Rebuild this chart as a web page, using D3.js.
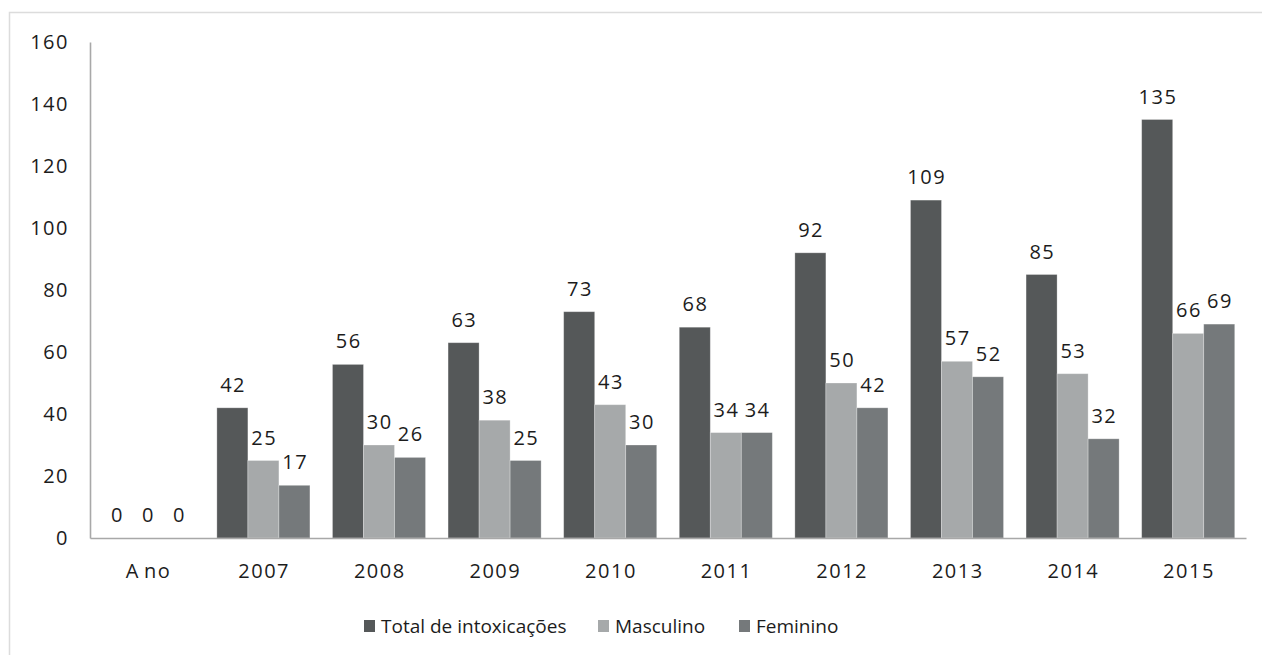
<!DOCTYPE html>
<html>
<head>
<meta charset="utf-8">
<script src="https://cdn.jsdelivr.net/npm/d3@7"></script>
<style>
  html, body { margin: 0; padding: 0; background: #fff; }
  svg { display: block; }
  text { font-family: "Open Sans", "Noto Sans", sans-serif; fill: #1c1c1c; }
</style>
</head>
<body>
<svg id="chart" width="1262" height="655"></svg>
<script>
// Intoxication counts per year, total and by sex
const categories = ["Ano", "2007", "2008", "2009", "2010", "2011", "2012", "2013", "2014", "2015"];
const seriesNames = ["Total de intoxicações", "Masculino", "Feminino"];
const totalValues = [0, 42, 56, 63, 73, 68, 92, 109, 85, 135];
const maleValues = [0, 25, 30, 38, 43, 34, 50, 57, 53, 66];
const femaleValues = [0, 17, 26, 25, 30, 34, 42, 52, 32, 69];
const yTicks = [0, 20, 40, 60, 80, 100, 120, 140, 160];

const seriesValues = [totalValues, maleValues, femaleValues];
const colors = ["#555859", "#a6a9aa", "#75797b"];

const numFont = "20px";
const numSpacing = 1.5;

const svg = d3.select("#chart");

// outer frame
svg.append("rect")
  .attr("x", 9.5).attr("y", 12.5)
  .attr("width", 1400).attr("height", 800)
  .attr("fill", "none").attr("stroke", "#dcdcdc").attr("stroke-width", 1.5);

const plot = { left: 90, right: 1246, top: 42, bottom: 538 };

const x0 = d3.scaleBand()
  .domain(categories)
  .range([plot.left, plot.right])
  .paddingInner(0.195)
  .paddingOuter(0.0975);

const x1 = d3.scaleBand()
  .domain(seriesNames)
  .range([0, x0.bandwidth()]);

const y = d3.scaleLinear()
  .domain([0, 160])
  .range([plot.bottom, plot.top]);

const color = d3.scaleOrdinal().domain(seriesNames).range(colors);

// y axis: line and labels only
const yAxis = d3.axisLeft(y).tickValues(yTicks).tickSize(0).tickPadding(21);
const gy = svg.append("g").attr("transform", `translate(${plot.left},0)`).call(yAxis);
gy.select(".domain").attr("stroke", "#a8a8a8").attr("stroke-width", 1.6);
gy.selectAll("text")
  .style("font-family", "'Open Sans', sans-serif")
  .style("font-size", numFont)
  .style("letter-spacing", numSpacing + "px")
  .attr("fill", "#1c1c1c");

// grouped bars
const rows = categories.map((c, i) => ({
  cat: c,
  vals: seriesNames.map((s, k) => ({ series: s, value: seriesValues[k][i] }))
}));

const groups = svg.append("g").selectAll("g")
  .data(rows)
  .join("g")
  .attr("transform", d => `translate(${x0(d.cat)},0)`);

groups.selectAll("rect")
  .data(d => d.vals)
  .join("rect")
  .attr("x", d => x1(d.series))
  .attr("y", d => y(d.value))
  .attr("width", x1.bandwidth())
  .attr("height", d => y(0) - y(d.value))
  .attr("fill", d => color(d.series))
  .attr("stroke", "rgba(255,255,255,0.35)")
  .attr("stroke-width", 0.8);

groups.selectAll("text.val")
  .data(d => d.vals)
  .join("text")
  .attr("class", "val")
  .attr("x", d => x1(d.series) + x1.bandwidth() / 2 + numSpacing / 2)
  .attr("y", d => y(d.value) - 16)
  .attr("text-anchor", "middle")
  .style("font-size", numFont)
  .style("letter-spacing", numSpacing + "px")
  .text(d => d.value);

// x axis baseline and category labels
const xAxis = d3.axisBottom(x0).tickSize(0).tickPadding(26);
const gx = svg.append("g").attr("transform", `translate(0,${plot.bottom})`).call(xAxis);
gx.select(".domain").attr("stroke", "#a8a8a8").attr("stroke-width", 1.6);
gx.selectAll("text")
  .style("font-family", "'Open Sans', sans-serif")
  .style("font-size", numFont)
  .style("letter-spacing", numSpacing + "px")
  .attr("dx", numSpacing / 2)
  .attr("fill", "#1c1c1c");

// the first label is set with a wider gap after its initial letter
gx.selectAll("text").filter(d => d === "Ano").each(function (d) {
  const t = d3.select(this).text("");
  t.append("tspan").text(d.slice(0, 1));
  t.append("tspan").attr("dx", 4).text(d.slice(1));
});

// legend
const legendX = [364, 598, 739];
const legend = svg.append("g").selectAll("g")
  .data(seriesNames)
  .join("g")
  .attr("transform", (d, i) => `translate(${legendX[i]},0)`);
legend.append("rect")
  .attr("x", 0).attr("y", 620)
  .attr("width", 11).attr("height", 12)
  .attr("fill", d => color(d));
legend.append("text")
  .attr("x", 17).attr("y", 633)
  .style("font-size", "19px")
  .text(d => d);
</script>
</body>
</html>
